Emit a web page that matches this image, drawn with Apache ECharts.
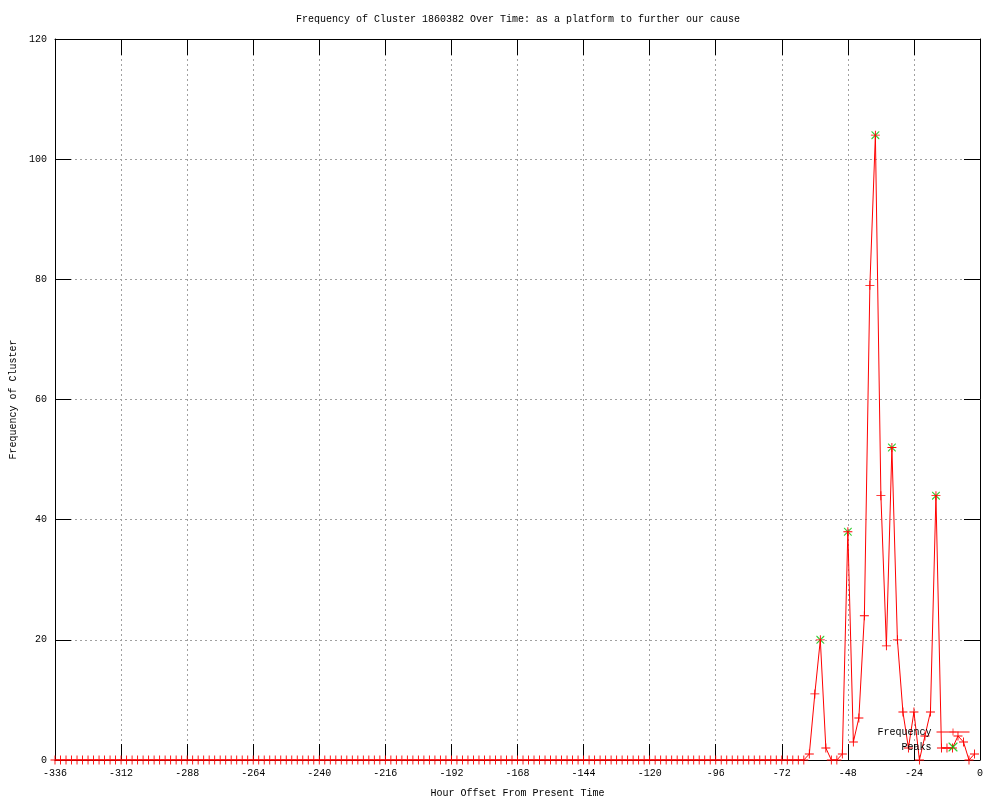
<!DOCTYPE html>
<html>
<head>
<meta charset="utf-8">
<script src="https://cdn.jsdelivr.net/npm/echarts@6/dist/echarts.min.js"></script>
<style>html,body{margin:0;padding:0;background:#fff}#c{width:1000px;height:800px}</style>
</head>
<body>
<div id="c"></div>
<script>
// ---- data ----
var titleText = 'Frequency of Cluster 1860382 Over Time: as a platform to further our cause';
var xAxisName = 'Hour Offset From Present Time';
var yAxisName = 'Frequency of Cluster';

var hours = [
  -336,-334,-332,-330,-328,-326,-324,-322,-320,-318,-316,-314,
  -312,-310,-308,-306,-304,-302,-300,-298,-296,-294,-292,-290,
  -288,-286,-284,-282,-280,-278,-276,-274,-272,-270,-268,-266,
  -264,-262,-260,-258,-256,-254,-252,-250,-248,-246,-244,-242,
  -240,-238,-236,-234,-232,-230,-228,-226,-224,-222,-220,-218,
  -216,-214,-212,-210,-208,-206,-204,-202,-200,-198,-196,-194,
  -192,-190,-188,-186,-184,-182,-180,-178,-176,-174,-172,-170,
  -168,-166,-164,-162,-160,-158,-156,-154,-152,-150,-148,-146,
  -144,-142,-140,-138,-136,-134,-132,-130,-128,-126,-124,-122,
  -120,-118,-116,-114,-112,-110,-108,-106,-104,-102,-100,-98,
  -96,-94,-92,-90,-88,-86,-84,-82,-80,-78,-76,-74,
  -72,-70,-68,-66,-64,-62,-60,-58,-56,-54,-52,-50,
  -48,-46,-44,-42,-40,-38,-36,-34,-32,-30,-28,-26,
  -24,-22,-20,-18,-16,-14,-12,-10,-8,-6,-4,-2
];
var frequency = [
  0,0,0,0,0,0,0,0,0,0,0,0,
  0,0,0,0,0,0,0,0,0,0,0,0,
  0,0,0,0,0,0,0,0,0,0,0,0,
  0,0,0,0,0,0,0,0,0,0,0,0,
  0,0,0,0,0,0,0,0,0,0,0,0,
  0,0,0,0,0,0,0,0,0,0,0,0,
  0,0,0,0,0,0,0,0,0,0,0,0,
  0,0,0,0,0,0,0,0,0,0,0,0,
  0,0,0,0,0,0,0,0,0,0,0,0,
  0,0,0,0,0,0,0,0,0,0,0,0,
  0,0,0,0,0,0,0,0,0,0,0,0,
  0,0,0,0,0,1,11,20,2,0,0,1,
  38,3,7,24,79,104,44,19,52,20,8,2,
  8,0,4,8,44,2,2,2,4,3,0,1
];
var peakHours = [-58,-48,-38,-32,-16];
var peakValues = [20,38,104,52,44];

var xMin = -336, xMax = 0, xStep = 24;
var yMin = 0, yMax = 120, yStep = 20;

// ---- chart ----
var FONT = '"Liberation Mono", "DejaVu Sans Mono", monospace';
var plusSym = 'path://M0,4.5H10V5.5H0Z M4.5,0H5.5V10H4.5Z';
var crossSym = 'path://M0,0L1,0L10,9L10,10L9,10L0,1Z M9,0L10,0L10,1L1,10L0,10L0,9Z';

function zip(a, b) { var r = []; for (var i = 0; i < a.length; i++) r.push([a[i], b[i]]); return r; }

var tickStyle = { show: true, inside: true, length: 16, lineStyle: { color: '#000', width: 1 } };
var gridLine = { show: true, lineStyle: { color: '#a0a0a0', type: [2, 3], width: 1 } };
var labelStyle = { color: '#000', fontFamily: FONT, fontSize: 10 };

var chart = echarts.init(document.getElementById('c'), null, { renderer: 'canvas' });
chart.setOption({
  animation: false,
  backgroundColor: '#fff',
  title: {
    text: titleText, left: 296, top: 14, padding: 0,
    textStyle: { fontFamily: FONT, fontSize: 10, fontWeight: 'normal', color: '#000' }
  },
  legend: {
    orient: 'vertical', right: 30, top: 727, align: 'right', padding: 0,
    itemWidth: 33, itemHeight: 9, itemGap: 5,
    lineStyle: { width: 1 },
    textStyle: { fontFamily: FONT, fontSize: 10, color: '#000' },
    data: ['Frequency', 'Peaks']
  },
  grid: { left: 55, right: 20, top: 39, bottom: 40, containLabel: false, outerBoundsMode: 'none' },
  xAxis: [{
    type: 'value', min: xMin, max: xMax, interval: xStep, position: 'bottom',
    name: xAxisName, nameLocation: 'middle', nameGap: 28,
    nameTextStyle: { fontFamily: FONT, fontSize: 10, color: '#000' },
    axisLine: { show: true, onZero: false, lineStyle: { color: '#000', width: 1 } },
    axisTick: tickStyle, axisLabel: Object.assign({ margin: 8 }, labelStyle),
    splitLine: gridLine
  }, {
    type: 'value', min: xMin, max: xMax, interval: xStep, position: 'top',
    axisLine: { show: true, onZero: false, lineStyle: { color: '#000', width: 1 } },
    axisTick: tickStyle, axisLabel: { show: false }, splitLine: { show: false }
  }],
  yAxis: [{
    type: 'value', min: yMin, max: yMax, interval: yStep, position: 'left',
    name: yAxisName, nameLocation: 'middle', nameGap: 37,
    nameTextStyle: { fontFamily: FONT, fontSize: 10, color: '#000' },
    axisLine: { show: true, onZero: false, lineStyle: { color: '#000', width: 1 } },
    axisTick: tickStyle, axisLabel: Object.assign({ margin: 8 }, labelStyle),
    splitLine: gridLine
  }, {
    type: 'value', min: yMin, max: yMax, interval: yStep, position: 'right',
    axisLine: { show: true, onZero: false, lineStyle: { color: '#000', width: 1 } },
    axisTick: tickStyle, axisLabel: { show: false }, splitLine: { show: false }
  }],
  series: [{
    name: 'Peaks', type: 'scatter', z: 2,
    symbol: crossSym, symbolSize: 8,
    itemStyle: { color: '#00c000' },
    data: zip(peakHours, peakValues)
  }, {
    name: 'Frequency', type: 'line', z: 3,
    symbol: plusSym, symbolSize: 9, showAllSymbol: true,
    lineStyle: { color: '#ff0000', width: 1 },
    itemStyle: { color: '#ff0000' },
    data: zip(hours, frequency)
  }]
});
</script>
</body>
</html>
